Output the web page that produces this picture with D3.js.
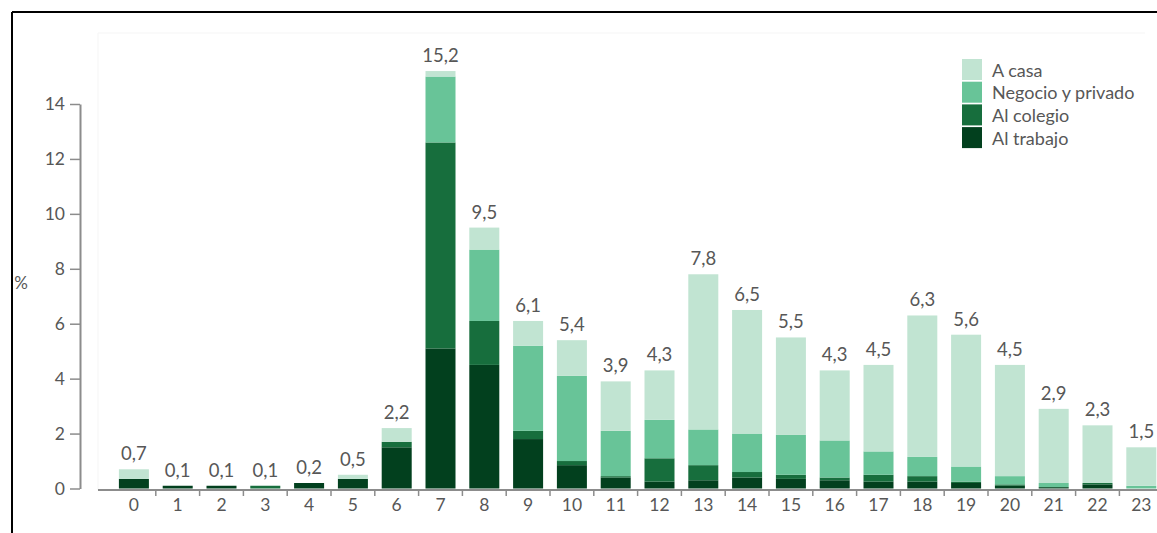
<!DOCTYPE html>
<html>
<head>
<meta charset="utf-8">
<script src="https://cdn.jsdelivr.net/npm/d3@7/dist/d3.min.js"></script>
<style>
  html, body { margin: 0; padding: 0; background: #fff; }
  svg { display: block; }
  text { font-family: Lato, "Open Sans", sans-serif; }
</style>
</head>
<body>
<svg id="chart" width="1157" height="533"></svg>
<script>
// Trips by hour of departure, share of all trips (%), split by purpose
const hours   = ["0","1","2","3","4","5","6","7","8","9","10","11","12","13","14","15","16","17","18","19","20","21","22","23"];
const trabajo = [0.35,0.1,0.1,0,0.2,0.35,1.5,5.1,4.5,1.8,0.85,0.4,0.25,0.3,0.4,0.35,0.3,0.25,0.25,0.2,0.1,0.05,0.15,0];
const colegio = [0,0,0,0.1,0,0,0.2,7.5,1.6,0.3,0.15,0.05,0.85,0.55,0.2,0.15,0.1,0.25,0.2,0.05,0.05,0,0.05,0];
const negocio = [0,0,0,0,0,0,0,2.4,2.6,3.1,3.1,1.65,1.4,1.3,1.4,1.45,1.35,0.85,0.7,0.55,0.3,0.15,0,0.1];
const casa    = [0.35,0,0,0,0,0.15,0.5,0.2,0.8,0.9,1.3,1.8,1.8,5.65,4.5,3.55,2.55,3.15,5.15,4.8,4.05,2.7,2.1,1.4];
const yTicks  = [0,2,4,6,8,10,12,14];

const seriesKeys   = ["trabajo","colegio","negocio","casa"];
const seriesLabels = {casa: "A casa", negocio: "Negocio y privado", colegio: "Al colegio", trabajo: "Al trabajo"};
const colors = {casa: "#c1e4d2", negocio: "#68c498", colegio: "#176e3d", trabajo: "#02401e"};
const legendOrder = ["casa","negocio","colegio","trabajo"];

const rows = hours.map((h, i) => ({
  hour: h, trabajo: trabajo[i], colegio: colegio[i], negocio: negocio[i], casa: casa[i]
}));
const totals = rows.map(r => Math.round((r.trabajo + r.colegio + r.negocio + r.casa) * 10) / 10);

const svg = d3.select("#chart");

// frame
svg.append("line").attr("x1", 12).attr("x2", 1157).attr("y1", 12).attr("y2", 12)
  .attr("stroke", "#000").attr("stroke-width", 2);
svg.append("line").attr("x1", 12).attr("x2", 12).attr("y1", 12).attr("y2", 533)
  .attr("stroke", "#000").attr("stroke-width", 2);

// faint plot panel edge
svg.append("path").attr("d", "M98,490V33H1145")
  .attr("fill", "none").attr("stroke", "#f5f5f5").attr("stroke-width", 1);

const x = d3.scaleBand().domain(hours).range([112, 1163.2])
  .paddingInner(0.315).paddingOuter(0.1575);
const y = d3.scaleLinear().domain([0, 14]).range([488.5, 104]);

// stacked bars
const stack = d3.stack().keys(seriesKeys)(rows);
svg.append("g").selectAll("g").data(stack).join("g")
  .attr("fill", d => colors[d.key])
  .selectAll("rect").data(d => d).join("rect")
  .attr("x", d => x(d.data.hour))
  .attr("width", x.bandwidth())
  .attr("y", d => y(d[1]))
  .attr("height", d => Math.max(0, y(d[0]) - y(d[1])));

// totals above bars
const fmt = v => d3.format(".1f")(v).replace(".", ",");
svg.append("g").selectAll("text").data(rows).join("text")
  .attr("x", d => x(d.hour) + x.bandwidth() / 2)
  .attr("y", (d, i) => y(totals[i]) - 9)
  .attr("text-anchor", "middle")
  .attr("font-size", 18.5)
  .attr("fill", "#575757")
  .text((d, i) => fmt(totals[i]));

// y axis
const yAxis = svg.append("g").attr("transform", "translate(80,0)")
  .call(d3.axisLeft(y).tickValues(yTicks).tickSize(10).tickSizeOuter(0).tickFormat(d3.format("d")).tickPadding(5));
yAxis.select(".domain").attr("stroke", "#8c8c8c").attr("stroke-width", 2);
yAxis.selectAll(".tick line").attr("stroke", "#8c8c8c").attr("stroke-width", 1.5);
yAxis.selectAll(".tick text").attr("font-size", 17.5).attr("fill", "#575757")
  .attr("font-family", "Lato, 'Open Sans', sans-serif");

svg.append("text").attr("x", 21).attr("y", 289).attr("text-anchor", "middle")
  .attr("font-size", 17).attr("fill", "#575757").text("%");

// x axis
const axisY = y(0) + 1.5;
svg.append("line").attr("x1", 98).attr("x2", 1157).attr("y1", axisY).attr("y2", axisY)
  .attr("stroke", "#8c8c8c").attr("stroke-width", 2);
svg.append("g").selectAll("line").data(hours.slice(1)).join("line")
  .attr("x1", d => x(d) - x.step() * x.paddingInner() / 2)
  .attr("x2", d => x(d) - x.step() * x.paddingInner() / 2)
  .attr("y1", axisY).attr("y2", axisY + 6)
  .attr("stroke", "#8c8c8c").attr("stroke-width", 1.5);
svg.append("g").selectAll("text").data(hours).join("text")
  .attr("x", d => x(d) + x.bandwidth() / 2)
  .attr("y", axisY + 21)
  .attr("text-anchor", "middle")
  .attr("font-size", 17.5)
  .attr("fill", "#575757")
  .text(d => d);

// legend
const legend = svg.append("g").attr("transform", "translate(962,59)");
const li = legend.selectAll("g").data(legendOrder).join("g")
  .attr("transform", (d, i) => `translate(0,${i * 22.7})`);
li.append("rect").attr("width", 20).attr("height", 21).attr("fill", d => colors[d]);
li.append("text").attr("x", 30).attr("y", 17.5)
  .attr("font-size", 18).attr("fill", "#575757")
  .text(d => seriesLabels[d]);
</script>
</body>
</html>
